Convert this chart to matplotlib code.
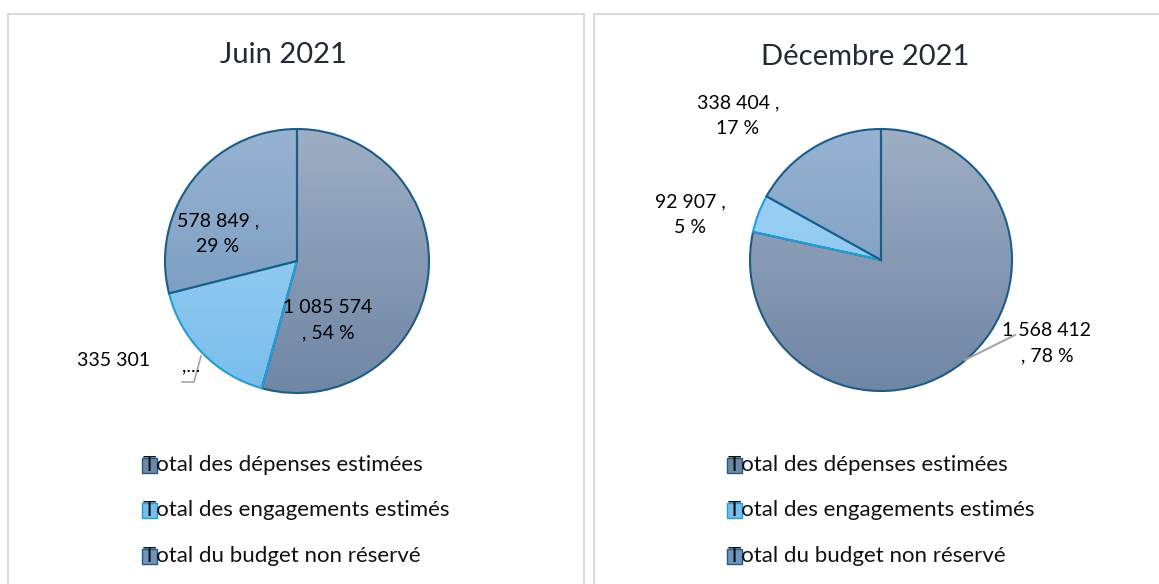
import numpy as np
import matplotlib.pyplot as plt
from matplotlib.patches import Rectangle, Wedge
from matplotlib.lines import Line2D

plt.rcParams['font.family'] = ['Lato', 'DejaVu Sans']

W, H = 1159, 584

categories = ['Total des dépenses estimées', 'Total des engagements estimés',
              'Total du budget non réservé']
titles = ['Juin 2021', 'Décembre 2021']
juin_values = [1085574, 335301, 578849]
dec_values = [1568412, 92907, 338404]
juin_labels = ['1 085 574\n, 54 %', '335 301', '578 849 ,\n29 %']
dec_labels = ['1 568 412\n, 78 %', '92 907 ,\n5 %', '338 404 ,\n17 %']

# gradient top/bottom colours, edge colours
grad = [('#9eaec4', '#6f86a5'), ('#a8d6f5', '#78bdec'), ('#97b3d2', '#7094ba')]
edges = ['#1d5c87', '#1e9fdc', '#1d5c87']


def px(x, y):
    return x / W, 1 - y / H


def draw_pie(fig, cx, cy, r, values):
    ax = fig.add_axes([(cx - r - 2) / W, 1 - (cy + r + 2) / H,
                       (2 * r + 4) / W, (2 * r + 4) / H])
    lim = (r + 2) / r
    ax.set_xlim(-lim, lim)
    ax.set_ylim(-lim, lim)
    ax.set_aspect('equal')
    ax.axis('off')
    fracs = np.array(values) / np.sum(values)
    start = 90.0
    for i, f in enumerate(fracs):
        end = start - f * 360
        wedge = Wedge((0, 0), 1, end, start, facecolor='none',
                      edgecolor=edges[i], linewidth=1.5, zorder=3)
        ax.add_patch(wedge)
        top, bot = grad[i]
        c1 = np.array(plt.matplotlib.colors.to_rgb(top))
        c2 = np.array(plt.matplotlib.colors.to_rgb(bot))
        t = np.linspace(0, 1, 200)[:, None]
        img = (c1 * (1 - t) + c2 * t)[:, None, :]
        im = ax.imshow(img, extent=[-1, 1, -1, 1], origin='upper',
                       aspect='auto', zorder=2)
        im.set_clip_path(wedge)
        start = end
    return ax


def draw_legend(fig, x, ys):
    for i, y in enumerate(ys):
        fig.patches.append(Rectangle(px(x - 1, y + 8), 15 / W, 15 / H,
                                     transform=fig.transFigure,
                                     facecolor=grad[i][1], edgecolor=edges[i],
                                     linewidth=1, zorder=0))
        fig.text(*px(x, y), categories[i], fontsize=16, va='center',
                 ha='left', color='#111111')


fig = plt.figure(figsize=(W / 100, H / 100), dpi=100)

# panel frames
for x0, x1 in [(8, 584), (594, 1162)]:
    fig.patches.append(Rectangle(px(x0, 600), (x1 - x0) / W, 586 / H,
                                 transform=fig.transFigure, facecolor='none',
                                 edgecolor='#d9d9d9', linewidth=1.5))

draw_pie(fig, 297, 261, 132, juin_values)
draw_pie(fig, 881, 260, 131, dec_values)

fig.text(*px(283, 55), titles[0], fontsize=21, ha='center', va='center',
         color='#222a35')
fig.text(*px(865, 57), titles[1], fontsize=21, ha='center', va='center',
         color='#222a35')

fs = 14
ls = 1.6
# Juin labels
fig.text(*px(328, 320), juin_labels[0], fontsize=fs, ha='center', va='center',
         linespacing=ls)
fig.text(*px(218, 234), juin_labels[2], fontsize=fs, ha='center', va='center',
         linespacing=ls)
fig.text(*px(114, 360), juin_labels[1], fontsize=fs, ha='center', va='center')
fig.text(*px(191, 366), ',...', fontsize=fs, ha='center', va='center')
xs, ys = zip(px(182, 382), px(194, 382), px(201, 356))
fig.add_artist(Line2D(xs, ys, color='#a6a6a6', linewidth=1.2))

# Décembre labels
fig.text(*px(1047, 343), dec_labels[0], fontsize=fs, ha='center', va='center',
         linespacing=ls)
fig.text(*px(690, 215), dec_labels[1], fontsize=fs, ha='center', va='center',
         linespacing=ls)
fig.text(*px(738, 116), dec_labels[2], fontsize=fs, ha='center', va='center',
         linespacing=ls)
xs, ys = zip(px(965, 360), px(1015, 335))
fig.add_artist(Line2D(xs, ys, color='#a6a6a6', linewidth=1.5))

draw_legend(fig, 143, [465, 510, 556])
draw_legend(fig, 728, [465, 510, 556])

fig.savefig('out.png', dpi=100)
